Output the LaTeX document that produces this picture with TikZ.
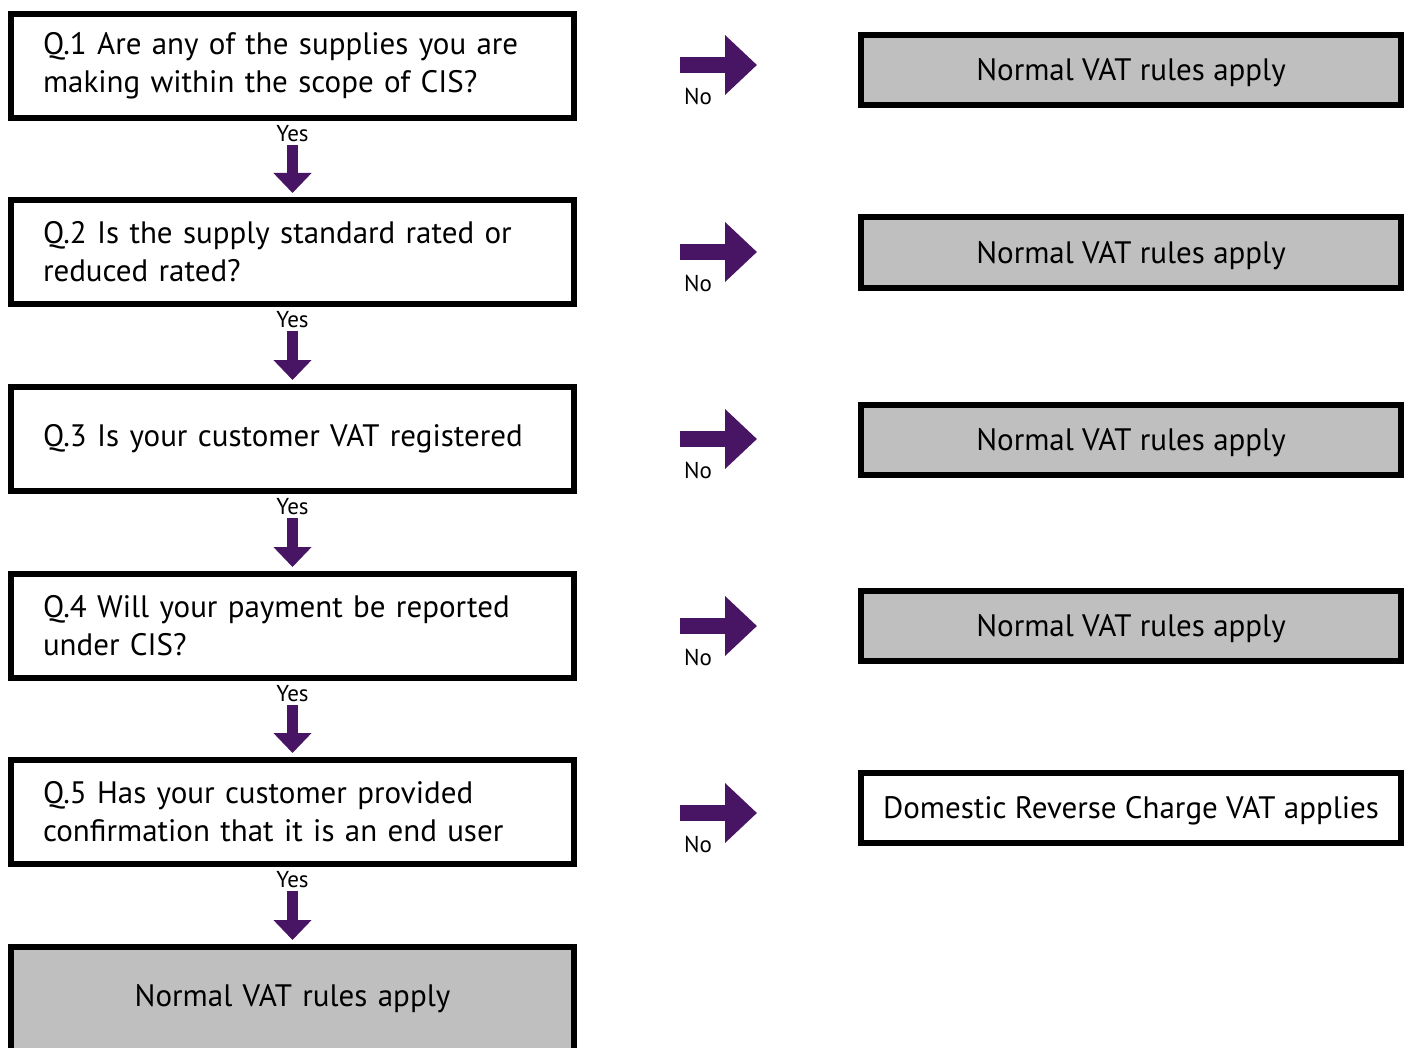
\documentclass[tikz,border=0pt]{standalone}
\usepackage{fontspec}
\setmainfont{PT Sans}
\usepackage{xcolor}
\usepackage{tikz}
\usetikzlibrary{arrows.meta}

\definecolor{vatpurple}{RGB}{72,20,100}
\definecolor{rulegrey}{RGB}{191,191,191}

\begin{document}
\begin{tikzpicture}[x=0.5pt, y=-0.5pt,
  question/.style={draw, line width=3pt, minimum width=281.5pt, minimum height=52pt,
    text width=249.5pt, inner xsep=16pt, inner ysep=2pt, align=left,
    font=\fontsize{15.5}{19}\selectfont},
  outcome/.style={draw, line width=3pt, minimum width=270pt, minimum height=35pt,
    inner ysep=2pt, text height=14pt, align=center, font=\fontsize{15.5}{19}\selectfont},
  normal/.style={outcome, fill=rulegrey},
  yesarrow/.style={vatpurple, line width=5.5pt, -{Triangle[width=18.5pt, length=10pt]}},
  noarrow/.style={vatpurple, line width=8pt, -{Triangle[width=29pt, length=16pt]}},
  answer/.style={black, font=\fontsize{11.5}{13}\selectfont, inner sep=0pt}
]

\useasboundingbox (0,0) rectangle (1407,1048);

% question column
\node[question] (q1) at (292.5,66) {Q.1 Are any of the supplies you are\\making within the scope of CIS?};
\node[question] (q2) at (292.5,252) {Q.2 Is the supply standard rated or\\reduced rated?};
\node[question] (q3) at (292.5,439) {Q.3 Is your customer VAT registered};
\node[question] (q4) at (292.5,626) {Q.4 Will your payment be reported\\under CIS?};
\node[question] (q5) at (292.5,812) {Q.5 Has your customer provided\\confirmation that it is an end user};
\node[question, fill=rulegrey, align=center] (fin) at (292.5,999) {Normal VAT rules apply};

% outcome column
\node[normal] (r1) at (1131,70) {Normal VAT rules apply};
\node[normal] (r2) at (1131,252.5) {Normal VAT rules apply};
\node[normal] (r3) at (1131,439.5) {Normal VAT rules apply};
\node[normal] (r4) at (1131,625.5) {Normal VAT rules apply};
\node[outcome, fill=white] (r5) at (1131,808) {Domestic Reverse Charge VAT applies};

% yes arrows
\draw[yesarrow] ([yshift=-12pt]q1.south) -- node[answer, pos=0, yshift=5.5pt] {Yes} ([yshift=2pt]q2.north);
\draw[yesarrow] ([yshift=-12pt]q2.south) -- node[answer, pos=0, yshift=5.5pt] {Yes} ([yshift=2pt]q3.north);
\draw[yesarrow] ([yshift=-12pt]q3.south) -- node[answer, pos=0, yshift=5.5pt] {Yes} ([yshift=2pt]q4.north);
\draw[yesarrow] ([yshift=-12pt]q4.south) -- node[answer, pos=0, yshift=5.5pt] {Yes} ([yshift=2pt]q5.north);
\draw[yesarrow] ([yshift=-12pt]q5.south) -- node[answer, pos=0, yshift=5.5pt] {Yes} ([yshift=2pt]fin.north);

% no arrows
\draw[noarrow] ([xshift=51.5pt, yshift=0.5pt]q1.east) -- node[answer, pos=0, xshift=9pt, yshift=-15.5pt] {No} ([xshift=-50.5pt, yshift=0.5pt]r1.west |- q1.east);
\draw[noarrow] ([xshift=51.5pt]q2.east) -- node[answer, pos=0, xshift=9pt, yshift=-15.5pt] {No} ([xshift=-50.5pt]r2.west |- q2.east);
\draw[noarrow] ([xshift=51.5pt]q3.east) -- node[answer, pos=0, xshift=9pt, yshift=-15.5pt] {No} ([xshift=-50.5pt]r3.west |- q3.east);
\draw[noarrow] ([xshift=51.5pt]q4.east) -- node[answer, pos=0, xshift=9pt, yshift=-15.5pt] {No} ([xshift=-50.5pt]r4.west |- q4.east);
\draw[noarrow] ([xshift=51.5pt, yshift=-0.5pt]q5.east) -- node[answer, pos=0, xshift=9pt, yshift=-15.5pt] {No} ([xshift=-50.5pt, yshift=-0.5pt]r5.west |- q5.east);

\end{tikzpicture}
\end{document}
